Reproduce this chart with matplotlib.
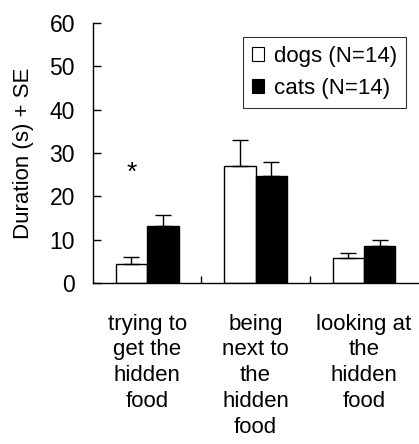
import numpy as np
import matplotlib
matplotlib.use("Agg")
import matplotlib.pyplot as plt
from matplotlib.patches import Patch

plt.rcParams["font.family"] = ["Liberation Sans", "DejaVu Sans"]

categories = ["trying to\nget the\nhidden\nfood",
              "being\nnext to\nthe\nhidden\nfood",
              "looking at\nthe\nhidden\nfood"]
dogs = [4.5, 27.1, 5.8]
dogs_se = [1.6, 5.8, 1.1]
cats = [13.2, 24.7, 8.5]
cats_se = [2.5, 3.3, 1.4]
labels = ["dogs (N=14)", "cats (N=14)"]

FS = 16

fig = plt.figure(figsize=(4.19, 4.44), dpi=100)
ax = fig.add_axes([0.222, 0.3626, 0.776, 0.5857])

x = np.arange(len(categories))
w = 0.29
err_kw = dict(ecolor="black", elinewidth=1.0, capsize=5.5, capthick=1.0)
ax.bar(x - w / 2, dogs, w, color="white", edgecolor="black", linewidth=1.0,
       yerr=[np.zeros(3), dogs_se], error_kw=err_kw)
ax.bar(x + w / 2, cats, w, color="black", edgecolor="black", linewidth=1.0,
       yerr=[np.zeros(3), cats_se], error_kw=err_kw)

ax.text(x[0] - w / 2, 25.5, "*", ha="center", va="center", fontsize=19)

ax.set_xlim(-0.5, 2.5)
ax.set_ylim(0, 60)
ax.set_yticks(np.arange(0, 61, 10))
ax.tick_params(axis="y", direction="in", length=6, width=1, labelsize=16.5, pad=13)
ax.set_xticks(x)
ax.set_xticklabels(categories, fontsize=FS, linespacing=1.3)
ax.tick_params(axis="x", which="major", length=0, pad=22)
ax.set_xticks([0.5, 1.5], minor=True)
ax.tick_params(axis="x", which="minor", direction="in", length=5, width=1)

for s in ["top", "right"]:
    ax.spines[s].set_visible(False)
for s in ["left", "bottom"]:
    ax.spines[s].set_linewidth(1.0)

ax.set_ylabel("Duration (s) + SE", fontsize=FS, labelpad=11)

handles = [Patch(facecolor="white", edgecolor="black", linewidth=0.8),
           Patch(facecolor="black", edgecolor="black", linewidth=0.8)]
leg = ax.legend(handles, labels, loc="upper right", bbox_to_anchor=(0.963, 0.946),
                fontsize=FS, frameon=True, fancybox=False, handlelength=0.55,
                handleheight=0.55, handletextpad=0.45, borderpad=0.4,
                labelspacing=0.5, borderaxespad=0)
leg.get_frame().set_edgecolor("black")
leg.get_frame().set_linewidth(0.8)

fig.savefig("out.png", dpi=100)
